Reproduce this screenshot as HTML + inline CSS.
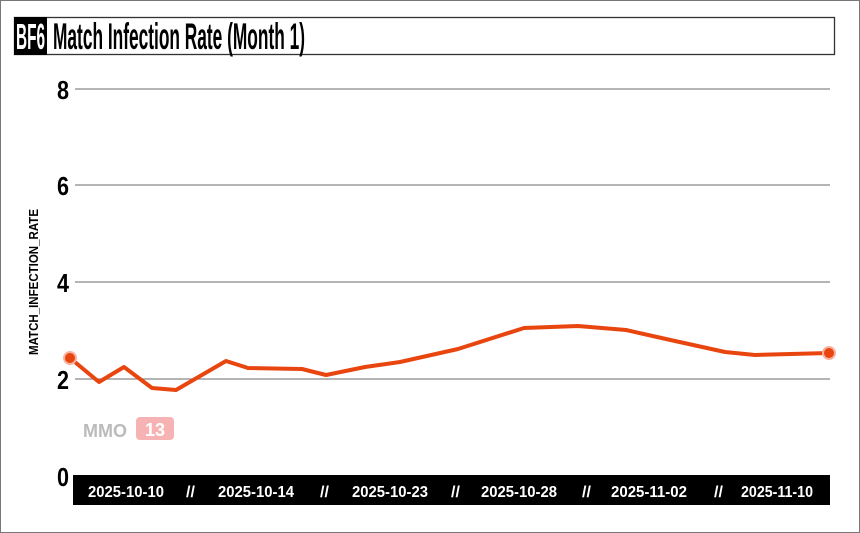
<!DOCTYPE html>
<html><head><style>
body{margin:0;width:860px;height:533px;background:#fff;overflow:hidden;font-family:"Liberation Sans",sans-serif;}
.frame{position:absolute;left:0;top:0;width:858px;height:531px;border:1px solid #777;}
</style></head><body>
<div class="frame"></div>
<svg width="860" height="533" style="position:absolute;left:0;top:0" font-family="Liberation Sans, sans-serif">
<rect x="14.5" y="17.5" width="820" height="37" fill="none" stroke="#333" stroke-width="1.3"/>
<rect x="14" y="17" width="33" height="38" fill="#000"/>
<text x="16" y="49" font-weight="bold" font-size="36" fill="#fff" textLength="29" lengthAdjust="spacingAndGlyphs">BF6</text>
<text x="53" y="49" font-weight="bold" font-size="37" fill="#000" textLength="252" lengthAdjust="spacingAndGlyphs">Match Infection Rate (Month 1)</text>
<g stroke="#888" stroke-width="1.3">
<line x1="75" x2="830" y1="89" y2="89"/><line x1="75" x2="830" y1="185" y2="185"/>
<line x1="75" x2="830" y1="282" y2="282"/><line x1="75" x2="830" y1="379" y2="379"/>
</g>
<g font-weight="bold" font-size="26" fill="#000">
<text x="57" y="99" textLength="12" lengthAdjust="spacingAndGlyphs">8</text>
<text x="57" y="195" textLength="12" lengthAdjust="spacingAndGlyphs">6</text>
<text x="57" y="292" textLength="12" lengthAdjust="spacingAndGlyphs">4</text>
<text x="57" y="389" textLength="12" lengthAdjust="spacingAndGlyphs">2</text>
<text x="57" y="486" textLength="12" lengthAdjust="spacingAndGlyphs">0</text>
</g>
<text transform="translate(38,282) rotate(-90)" text-anchor="middle" font-weight="bold" font-size="13" textLength="146" lengthAdjust="spacingAndGlyphs">MATCH_INFECTION_RATE</text>
<rect x="73" y="475" width="757" height="30" fill="#000"/>
<g font-weight="bold" font-size="16" fill="#fff">
<text x="88" y="497" textLength="76" lengthAdjust="spacingAndGlyphs">2025-10-10</text><text x="186" y="497">//</text>
<text x="218" y="497" textLength="76" lengthAdjust="spacingAndGlyphs">2025-10-14</text><text x="320" y="497">//</text>
<text x="352" y="497" textLength="76" lengthAdjust="spacingAndGlyphs">2025-10-23</text><text x="451" y="497">//</text>
<text x="481" y="497" textLength="76" lengthAdjust="spacingAndGlyphs">2025-10-28</text><text x="582" y="497">//</text>
<text x="611" y="497" textLength="76" lengthAdjust="spacingAndGlyphs">2025-11-02</text><text x="714" y="497">//</text>
<text x="741" y="497" textLength="72" lengthAdjust="spacingAndGlyphs">2025-11-10</text>
</g>
<text x="83" y="437" font-weight="bold" font-size="18" fill="#bbb">MMO</text>
<rect x="136" y="417" width="38" height="23" rx="4" fill="#f7b3b3"/>
<text x="155" y="436" text-anchor="middle" font-weight="bold" font-size="18" fill="#fff">13</text>
<polyline fill="none" stroke="#e8450f" stroke-width="4" stroke-linejoin="round" points="70,358 99,382 124,367 152,388 176,390 226,361 248,368 302,369 326,375 365,367 400,362 458,349 524,328 578,326 626,330 675,341 725,352 755,355 829,353"/>
<circle cx="70" cy="358" r="6" fill="#e8450f" stroke="#f7b3a0" stroke-width="2"/>
<circle cx="829" cy="353" r="6" fill="#e8450f" stroke="#f7b3a0" stroke-width="2"/>
</svg>
</body></html>
